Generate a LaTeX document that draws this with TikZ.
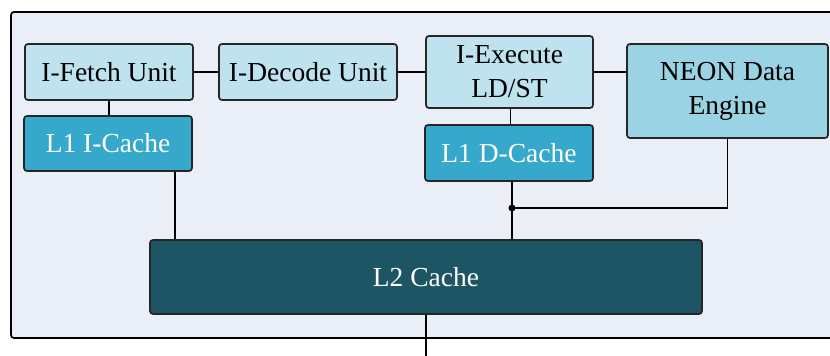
\documentclass[tikz,border=0pt]{standalone}
\usepackage{fontspec}
\setmainfont{Liberation Serif}
\usetikzlibrary{calc}
\definecolor{panelbg}{HTML}{EAEEF6}
\definecolor{stagefill}{HTML}{BFE3EE}
\definecolor{neonfill}{HTML}{9AD3E3}
\definecolor{lonefill}{HTML}{35A8CB}
\definecolor{ltwofill}{HTML}{1D5565}
\begin{document}
\begin{tikzpicture}[x=1pt,y=-1pt,
  box/.style={draw=black!85,line width=1.7pt,rounded corners=3pt,inner sep=0pt,
    align=center,font=\fontsize{27.5}{34}\selectfont},
  stage/.style={box,fill=stagefill,text=black},
  neon/.style={box,fill=neonfill,text=black},
  lone/.style={box,fill=lonefill,text=white},
  ltwo/.style={box,fill=ltwofill,text=white},
  wire/.style={line width=1.8pt,draw=black}]
\useasboundingbox (0,0) rectangle (830,356);
\clip (0,0) rectangle (830,356);
% enclosing panel
\draw[line width=1.7pt,rounded corners=3pt,fill=panelbg] (11,12) rectangle (836,338);
% pipeline stages
\node[stage,minimum width=168pt,minimum height=56pt] (fetch) at (109,72) {I-Fetch Unit};
\node[stage,minimum width=178pt,minimum height=56pt] (decode) at (308,72) {I-Decode Unit};
\node[stage,minimum width=167pt,minimum height=72pt] (exec) at (509.5,72) {I-Execute\\LD/ST};
\node[neon,minimum width=201pt,minimum height=94pt] (neon) at (727.5,91) {NEON Data\\Engine};
% caches
\node[lone,minimum width=168pt,minimum height=55pt] (lonei) at (108,143.5) {L1 I-Cache};
\node[lone,minimum width=168pt,minimum height=56pt] (loned) at (509,153) {L1 D-Cache};
\node[ltwo,minimum width=552pt,minimum height=74pt] (ltwo) at (426,277) {L2 Cache};
% helper points
\coordinate (ix) at (175,0);
\coordinate (ex) at (510.5,0);
\coordinate (dx) at (512,0);
\coordinate (junc) at (512,208);
\coordinate (memout) at (426,360);
% connectors
\draw[wire] (fetch) -- (decode);
\draw[wire] (decode) -- (exec.west |- decode);
\draw[wire] (exec.east |- decode) -- (neon.west |- decode);
\draw[wire] (fetch.south) -- (fetch.south |- lonei.north);
\draw[wire] (exec.south -| ex) -- (loned.north -| ex);
\draw[wire] (lonei.south -| ix) -- (ltwo.north -| ix);
\draw[wire] (loned.south -| dx) -- (junc) -- (ltwo.north -| dx);
\draw[wire] (neon.south) |- (junc);
\fill (junc) circle (3.5pt);
\draw[wire] (ltwo.south) -- (memout);
\end{tikzpicture}
\end{document}
